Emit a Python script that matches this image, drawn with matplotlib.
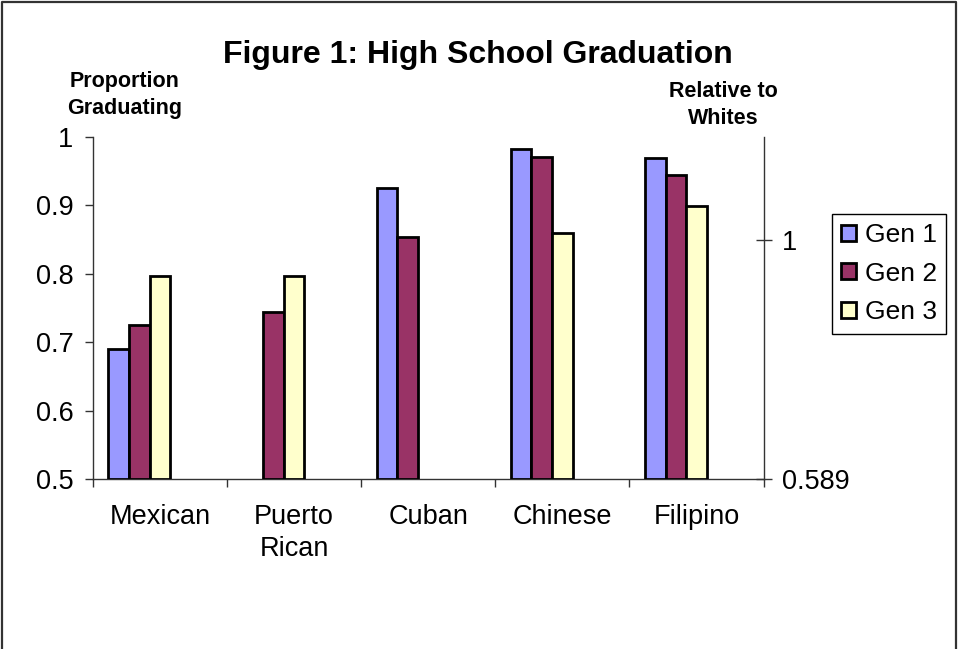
import numpy as np
import matplotlib
matplotlib.use("Agg")
import matplotlib.pyplot as plt
from matplotlib.patches import Patch
from matplotlib.lines import Line2D

plt.rcParams['font.family'] = ['Liberation Sans', 'DejaVu Sans']

categories = ["Mexican", "Puerto\nRican", "Cuban", "Chinese", "Filipino"]
series_names = ["Gen 1", "Gen 2", "Gen 3"]
gen1 = [0.690, np.nan, 0.925, 0.982, 0.969]
gen2 = [0.725, 0.744, 0.854, 0.971, 0.944]
gen3 = [0.797, 0.797, np.nan, 0.860, 0.899]
left_ticks = [0.5, 0.6, 0.7, 0.8, 0.9, 1.0]
left_labels = ["0.5", "0.6", "0.7", "0.8", "0.9", "1"]
right_ticks = [0.589, 1.0]
right_labels = ["0.589", "1"]
colors = ["#9999FF", "#993366", "#FFFFCC"]

W, H = 958, 649
fig = plt.figure(figsize=(W / 100, H / 100), dpi=100)
ax = fig.add_axes([93 / W, 1 - 479 / H, (763.5 - 93) / W, (479 - 137) / H])

n_slots = 5
gap = 1.5
w = 1.0 / (n_slots + gap)
x = np.arange(len(categories))
for k, (vals, c) in enumerate(zip([gen1, gen2, gen3], colors)):
    pos = x - 0.5 + gap * w / 2 + (k + 0.5) * w
    v = np.array(vals, dtype=float)
    m = ~np.isnan(v)
    ax.bar(pos[m], v[m] - 0.5, bottom=0.5, width=w, color=c,
           edgecolor="black", linewidth=2, zorder=3)

ax.set_xlim(-0.5, len(categories) - 0.5)
ax.set_ylim(0.5, 1.0)
ax.set_yticks(left_ticks)
ax.set_yticklabels(left_labels)
ax.tick_params(axis='y', direction='out', length=6, width=1, pad=8,
               labelsize=19.5, colors='#333333', labelcolor='black')
ax.set_xticks(np.arange(-0.5, len(categories)), minor=False)
ax.set_xticklabels([])
ax.tick_params(axis='x', which='major', direction='out', length=6, width=1,
               colors='#333333')
ax.set_xticks(x, minor=True)
ax.set_xticklabels(categories, minor=True, fontsize=19.5, linespacing=1.3)
ax.tick_params(axis='x', which='minor', length=0, pad=18)
for s in ['top', 'right']:
    ax.spines[s].set_visible(False)
for s in ['left', 'bottom']:
    ax.spines[s].set_color('#333333')
    ax.spines[s].set_linewidth(1)

ax2 = ax.twinx()
top2 = 0.589 + (1 - 0.589) / ((479 - 240) / (479 - 137))
ax2.set_ylim(0.589, top2)
ax2.set_yticks(right_ticks)
ax2.set_yticklabels(right_labels)
ax2.tick_params(axis='y', direction='inout', length=11.5, width=1, pad=7.5,
                labelsize=19.5, colors='#333333', labelcolor='black')
for s in ['top', 'left', 'bottom']:
    ax2.spines[s].set_visible(False)
ax2.spines['right'].set_color('#333333')
ax2.spines['right'].set_linewidth(1)

fig.text(478 / W, 1 - 63 / H, "Figure 1: High School Graduation",
         ha='center', va='baseline', fontsize=23, fontweight='bold')
fig.text(125 / W, 1 - 87 / H, "Proportion", ha='center', va='baseline',
         fontsize=15.5, fontweight='bold')
fig.text(125 / W, 1 - 114 / H, "Graduating", ha='center', va='baseline',
         fontsize=15.5, fontweight='bold')
fig.text(723 / W, 1 - 97 / H, "Relative to", ha='center', va='baseline',
         fontsize=15.5, fontweight='bold')
fig.text(723 / W, 1 - 124 / H, "Whites", ha='center', va='baseline',
         fontsize=15.5, fontweight='bold')

handles = [Patch(facecolor=c, edgecolor='black', linewidth=2) for c in colors]
leg = fig.legend(handles, series_names, loc='upper left',
                 bbox_to_anchor=(832 / W, 1 - 214 / H), borderaxespad=0,
                 fontsize=19, handlelength=0.55, handleheight=0.55,
                 handletextpad=0.35, labelspacing=0.55, borderpad=0.35,
                 fancybox=False, framealpha=1, edgecolor='black')
leg.get_frame().set_linewidth(1)

bc = '#333333'
fig.add_artist(Line2D([1.5 / W, 1.5 / W, 955.5 / W, 955.5 / W],
                      [0, 1 - 1.5 / H, 1 - 1.5 / H, 0],
                      transform=fig.transFigure, color=bc, linewidth=1.6))

fig.savefig("out.png", dpi=100, facecolor='white')
